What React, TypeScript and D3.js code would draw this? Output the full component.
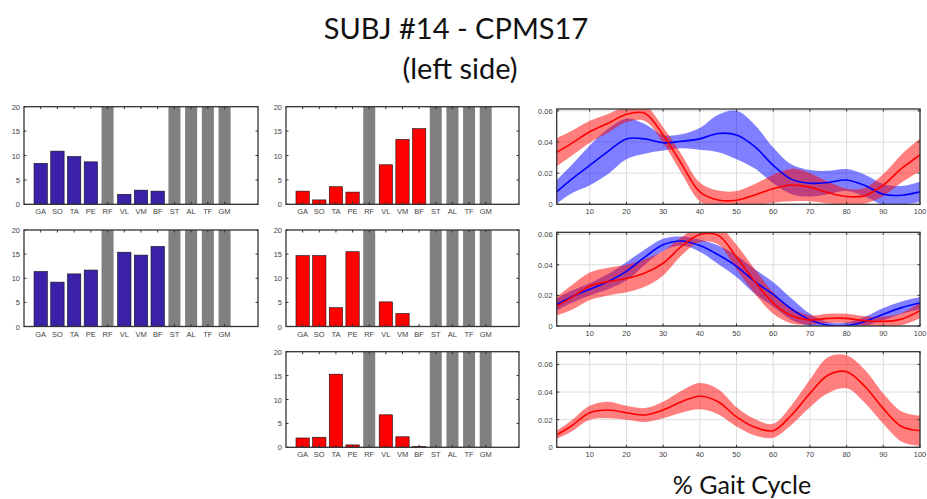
import React from 'react';
import * as d3 from 'd3';

// muscles on the x axis of each bar panel
const muscles = ['GA', 'SO', 'TA', 'PE', 'RF', 'VL', 'VM', 'BF', 'ST', 'AL', 'TF', 'GM'];
// muscles that are not recorded (drawn as full grey bars)
const greyMuscles = ['RF', 'ST', 'AL', 'TF', 'GM'];
const barTicks = [0, 5, 10, 15, 20];

// bar values (null = grey)
const barsRow1Blue = [8.4, 10.9, 9.8, 8.7, null, 2.05, 2.9, 2.7, null, null, null, null];
const barsRow2Blue = [11.4, 9.2, 10.9, 11.7, null, 15.4, 14.8, 16.6, null, null, null, null];
const barsRow1Red = [2.7, 0.9, 3.6, 2.5, null, 8.1, 13.3, 15.5, null, null, null, null];
const barsRow2Red = [14.7, 14.7, 3.9, 15.5, null, 5.1, 2.7, 0, null, null, null, null];
const barsRow3Red = [1.95, 2.1, 15.3, 0.5, null, 6.8, 2.2, 0.2, null, null, null, null];

// gait cycle samples
const gaitX = [1, 5, 10, 15, 20, 25, 30, 35, 40, 45, 50, 55, 60, 65, 70, 75, 80, 85, 90, 95, 100];
const gaitTicks = [10, 20, 30, 40, 50, 60, 70, 80, 90, 100];

const env1BlueMean = [0.008, 0.016, 0.025, 0.034, 0.042, 0.042, 0.0395, 0.0405, 0.042, 0.0455, 0.0445, 0.037, 0.025, 0.016, 0.0135, 0.014, 0.0156, 0.012, 0.0064, 0.0058, 0.008];
const env1BlueSd = [0.0075, 0.009, 0.0128, 0.0145, 0.013, 0.0095, 0.005, 0.0045, 0.007, 0.012, 0.0155, 0.014, 0.0115, 0.0095, 0.0085, 0.0075, 0.007, 0.007, 0.0067, 0.006, 0.0065];
const env1RedMean = [0.0334, 0.039, 0.0466, 0.052, 0.0578, 0.0585, 0.0445, 0.026, 0.008, 0.0028, 0.0026, 0.006, 0.01, 0.0124, 0.011, 0.0075, 0.005, 0.0055, 0.0124, 0.023, 0.0317];
const env1RedSd = [0.009, 0.008, 0.007, 0.006, 0.005, 0.005, 0.005, 0.006, 0.006, 0.006, 0.006, 0.007, 0.009, 0.0105, 0.009, 0.007, 0.005, 0.005, 0.007, 0.009, 0.0105];

const env2BlueMean = [0.014, 0.019, 0.024, 0.029, 0.0357, 0.045, 0.053, 0.0555, 0.0525, 0.0465, 0.039, 0.029, 0.0206, 0.011, 0.004, 0.0005, 0.0003, 0.003, 0.0077, 0.012, 0.015];
const env2BlueSd = [0.004, 0.004, 0.004, 0.005, 0.006, 0.005, 0.004, 0.003, 0.004, 0.006, 0.007, 0.008, 0.008, 0.007, 0.004, 0.002, 0.002, 0.003, 0.004, 0.004, 0.004];
const env2RedMean = [0.013, 0.0185, 0.026, 0.029, 0.031, 0.0346, 0.041, 0.052, 0.0598, 0.0592, 0.045, 0.029, 0.015, 0.0067, 0.004, 0.005, 0.005, 0.0034, 0.003, 0.0045, 0.01];
const env2RedSd = [0.006, 0.008, 0.009, 0.009, 0.009, 0.009, 0.008, 0.006, 0.005, 0.006, 0.008, 0.008, 0.007, 0.005, 0.003, 0.003, 0.003, 0.003, 0.003, 0.004, 0.005];

const env3RedMean = [0.009, 0.0154, 0.025, 0.027, 0.025, 0.0234, 0.027, 0.033, 0.037, 0.033, 0.022, 0.0145, 0.012, 0.0234, 0.039, 0.0523, 0.0547, 0.044, 0.028, 0.015, 0.012];
const env3RedSd = [0.003, 0.004, 0.005, 0.006, 0.005, 0.005, 0.006, 0.008, 0.0095, 0.009, 0.007, 0.006, 0.005, 0.007, 0.01, 0.013, 0.012, 0.012, 0.011, 0.011, 0.011];

const BLUE_BAR = '#3a21a8';
const RED_BAR = '#ff0000';
const GREY_BAR = '#808080';
const FRAME = '#333333';
const TICK_TXT = '#444444';
const FONT = 'Liberation Sans, Arial, sans-serif';
const TITLE_FONT = "Lato, 'Open Sans', sans-serif";

type Box = { left: number; right: number; top: number; bottom: number };

const BarPanel = ({ box, values, color }: { box: Box; values: (number | null)[]; color: string }) => {
  const x = d3.scaleLinear().domain([0, 14]).range([box.left, box.right]);
  const y = d3.scaleLinear().domain([0, 20]).range([box.bottom, box.top]);
  const bw = x(0.8) - x(0);
  const gw = x(0.72) - x(0);
  return (
    <g>
      {muscles.map((m, i) => {
        const cx = x(i + 1);
        if (greyMuscles.includes(m)) {
          return <rect key={m} x={cx - gw / 2} y={y(20)} width={gw} height={y(0) - y(20)} fill={GREY_BAR} />;
        }
        const v = values[i] ?? 0;
        if (v <= 0) return null;
        return (
          <rect key={m} x={cx - bw / 2} y={y(v)} width={bw} height={y(0) - y(v)}
            fill={color} stroke="#111" strokeWidth={0.6} />
        );
      })}
      {/* ticks, inward on all sides */}
      {muscles.map((m, i) => (
        <g key={'t' + m}>
          <line x1={x(i + 1)} x2={x(i + 1)} y1={y(20)} y2={y(20) + 2.5} stroke={FRAME} strokeWidth={1} />
          <line x1={x(i + 1)} x2={x(i + 1)} y1={y(0)} y2={y(0) - 2.5} stroke={FRAME} strokeWidth={1} />
          <text x={x(i + 1)} y={box.bottom + 10} fontSize={7.5} fill={TICK_TXT} textAnchor="middle" fontFamily={FONT}>{m}</text>
        </g>
      ))}
      {barTicks.map(t => (
        <g key={'y' + t}>
          <line x1={box.left} x2={box.left + 2.5} y1={y(t)} y2={y(t)} stroke={FRAME} />
          <line x1={box.right} x2={box.right - 2.5} y1={y(t)} y2={y(t)} stroke={FRAME} />
          <text x={box.left - 4} y={y(t) + 3} fontSize={7.5} fill={TICK_TXT} textAnchor="end" fontFamily={FONT}>{t}</text>
        </g>
      ))}
      <rect x={box.left} y={box.top} width={box.right - box.left} height={box.bottom - box.top}
        fill="none" stroke={FRAME} strokeWidth={1.3} />
    </g>
  );
};

type Series = { mean: number[]; sd: number[]; line: string; band: string };

const LinePanel = ({ box, series, yMax, yTicks, id }: { box: Box; series: Series[]; yMax: number; yTicks: number[]; id: string }) => {
  const x = d3.scaleLinear().domain([1, 100]).range([box.left, box.right]);
  const y = d3.scaleLinear().domain([0, yMax]).range([box.bottom, box.top]);
  const fmt = (t: number) => (t === 0 ? '0' : t.toFixed(2));
  const curve = d3.curveCatmullRom.alpha(0.5);
  return (
    <g>
      <defs>
        <clipPath id={id}>
          <rect x={box.left} y={box.top} width={box.right - box.left} height={box.bottom - box.top} />
        </clipPath>
      </defs>
      {gaitTicks.map(t => (
        <line key={'gx' + t} x1={x(t)} x2={x(t)} y1={box.top} y2={box.bottom} stroke="#dcdcdc" strokeWidth={1} />
      ))}
      {yTicks.map(t => (
        <line key={'gy' + t} x1={box.left} x2={box.right} y1={y(t)} y2={y(t)} stroke="#dcdcdc" strokeWidth={1} />
      ))}
      <g clipPath={`url(#${id})`}>
        {series.map((s, k) => {
          const pts = gaitX.map((gx, i) => ({ gx, m: s.mean[i], sd: s.sd[i] }));
          const area = d3.area<typeof pts[0]>()
            .x(d => x(d.gx)).y0(d => y(d.m - d.sd)).y1(d => y(d.m + d.sd))
            .curve(curve);
          return <path key={'a' + k} d={area(pts) || ''} fill={s.band} fillOpacity={0.5} stroke="none" />;
        })}
        {series.map((s, k) => {
          const pts = gaitX.map((gx, i) => ({ gx, m: s.mean[i] }));
          const line = d3.line<typeof pts[0]>().x(d => x(d.gx)).y(d => y(d.m)).curve(curve);
          return <path key={'l' + k} d={line(pts) || ''} fill="none" stroke={s.line} strokeWidth={1.6} />;
        })}
      </g>
      {gaitTicks.map(t => (
        <g key={'tx' + t}>
          <line x1={x(t)} x2={x(t)} y1={box.bottom} y2={box.bottom - 2.5} stroke={FRAME} />
          <line x1={x(t)} x2={x(t)} y1={box.top} y2={box.top + 2.5} stroke={FRAME} />
          <text x={x(t)} y={box.bottom + 10} fontSize={7.5} fill={TICK_TXT} textAnchor="middle" fontFamily={FONT}>{t}</text>
        </g>
      ))}
      {yTicks.map(t => (
        <g key={'ty' + t}>
          <line x1={box.left} x2={box.left + 2.5} y1={y(t)} y2={y(t)} stroke={FRAME} />
          <line x1={box.right} x2={box.right - 2.5} y1={y(t)} y2={y(t)} stroke={FRAME} />
          <text x={box.left - 4} y={y(t) + 3} fontSize={7.5} fill={TICK_TXT} textAnchor="end" fontFamily={FONT}>{fmt(t)}</text>
        </g>
      ))}
      <rect x={box.left} y={box.top} width={box.right - box.left} height={box.bottom - box.top}
        fill="none" stroke={FRAME} strokeWidth={1.3} />
    </g>
  );
};

export default function App() {
  const W = 927;
  const H = 499;
  const rows = [
    { top: 106.7, bottom: 204.3 },
    { top: 230, bottom: 326.5 },
    { top: 351.7, bottom: 447.3 },
  ];
  const col1 = { left: 24, right: 258 };
  const col2 = { left: 286, right: 519 };
  const col3 = { left: 556.7, right: 920 };
  const lineRows = [
    { top: 109, bottom: 204.3 },
    { top: 232.3, bottom: 326 },
    { top: 351.7, bottom: 447.3 },
  ];
  const blue = (mean: number[], sd: number[]): Series => ({ mean, sd, line: '#0000ff', band: '#0000ff' });
  const red = (mean: number[], sd: number[]): Series => ({ mean, sd, line: '#ff0000', band: '#ff0000' });
  return (
    <svg width={W} height={H} style={{ position: 'absolute', left: 0, top: 0, background: '#fff' }}>
      <text x={456} y={39} textAnchor="middle" fontSize={29} fontFamily={TITLE_FONT} fill="#111">SUBJ #14 - CPMS17</text>
      <text x={460} y={79} textAnchor="middle" fontSize={29} fontFamily={TITLE_FONT} fill="#111">(left side)</text>

      <BarPanel box={{ ...col1, ...rows[0] }} values={barsRow1Blue} color={BLUE_BAR} />
      <BarPanel box={{ ...col1, ...rows[1] }} values={barsRow2Blue} color={BLUE_BAR} />
      <BarPanel box={{ ...col2, ...rows[0] }} values={barsRow1Red} color={RED_BAR} />
      <BarPanel box={{ ...col2, ...rows[1] }} values={barsRow2Red} color={RED_BAR} />
      <BarPanel box={{ ...col2, ...rows[2] }} values={barsRow3Red} color={RED_BAR} />

      <LinePanel id="c1" box={{ ...col3, ...lineRows[0] }} yMax={0.0612} yTicks={[0, 0.02, 0.04, 0.06]}
        series={[blue(env1BlueMean, env1BlueSd), red(env1RedMean, env1RedSd)]} />
      <LinePanel id="c2" box={{ ...col3, ...lineRows[1] }} yMax={0.0612} yTicks={[0, 0.02, 0.04, 0.06]}
        series={[blue(env2BlueMean, env2BlueSd), red(env2RedMean, env2RedSd)]} />
      <LinePanel id="c3" box={{ ...col3, ...lineRows[2] }} yMax={0.0692} yTicks={[0, 0.02, 0.04, 0.06]}
        series={[red(env3RedMean, env3RedSd)]} />

      <text x={742} y={494} textAnchor="middle" fontSize={25} fontFamily={TITLE_FONT} fill="#111">% Gait Cycle</text>
    </svg>
  );
}
